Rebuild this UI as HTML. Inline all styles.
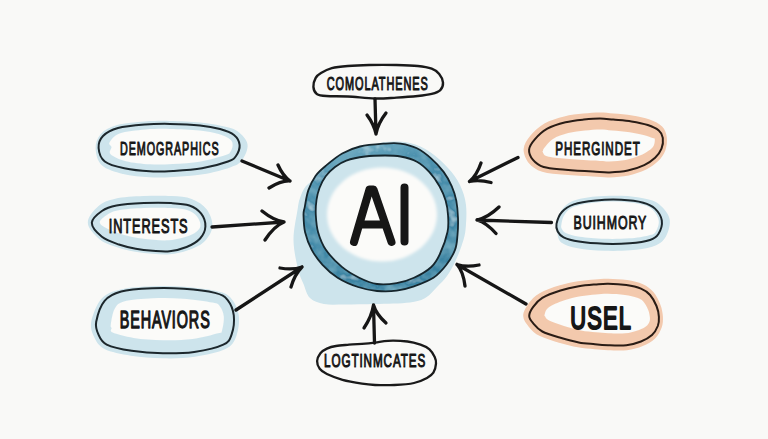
<!DOCTYPE html>
<html><head><meta charset="utf-8"><style>
html,body{margin:0;padding:0;background:#f9f9f7;}
svg{display:block;}
text{font-family:"Liberation Sans",sans-serif;font-weight:normal;fill:#161616;stroke:#161616;stroke-width:0.85px;stroke-linejoin:round;vector-effect:non-scaling-stroke;}
</style></head><body>
<svg width="768" height="439" viewBox="0 0 768 439">
<defs>
<linearGradient id="ringg" x1="0" y1="0" x2="0.3" y2="1"><stop offset="0" stop-color="#86bccf"/><stop offset="0.28" stop-color="#4c91ae"/><stop offset="1" stop-color="#3a83a2"/></linearGradient>
<filter id="soft3" x="-20%" y="-20%" width="140%" height="140%"><feGaussianBlur stdDeviation="1.6"/></filter>
<filter id="soft" x="-20%" y="-20%" width="140%" height="140%"><feGaussianBlur stdDeviation="0.6"/></filter>
<filter id="mottle" x="0" y="0" width="100%" height="100%">
<feTurbulence type="fractalNoise" baseFrequency="0.07" numOctaves="3" seed="7" result="n"/>
<feColorMatrix in="n" type="matrix" values="0 0 0 0 0.16  0 0 0 0 0.40  0 0 0 0 0.52  2.4 0 0 0 -1.0" result="dk"/>
<feColorMatrix in="n" type="matrix" values="0 0 0 0 0.52  0 0 0 0 0.74  0 0 0 0 0.82  -2.4 0 0 0 0.9" result="lt"/>
<feMerge result="mm"><feMergeNode in="SourceGraphic"/><feMergeNode in="dk"/><feMergeNode in="lt"/></feMerge>
<feComposite in="mm" in2="SourceGraphic" operator="in"/>
</filter>
</defs>
<rect width="768" height="439" fill="#f9f9f7"/>
<path d="M385.0,142.0 C392.5,141.2 402.5,141.3 410.0,143.0 C417.5,144.7 423.7,147.8 430.0,152.0 C436.3,156.2 443.0,162.5 448.0,168.0 C453.0,173.5 457.0,178.8 460.0,185.0 C463.0,191.2 465.1,197.5 466.0,205.0 C466.9,212.5 466.2,223.2 465.5,230.0 C464.8,236.8 463.2,240.7 461.5,246.0 C459.8,251.3 457.4,257.0 455.0,262.0 C452.6,267.0 450.0,271.8 447.0,276.0 C444.0,280.2 440.5,283.4 437.0,287.0 C433.5,290.6 430.5,294.9 426.0,297.5 C421.5,300.1 418.5,301.4 410.0,302.5 C401.5,303.6 385.8,303.7 375.0,304.0 C364.2,304.3 353.5,304.5 345.0,304.5 C336.5,304.5 329.8,305.1 324.0,304.0 C318.2,302.9 313.4,301.3 310.0,298.0 C306.6,294.7 305.5,288.8 303.5,284.0 C301.5,279.2 299.7,276.3 298.0,269.0 C296.3,261.7 293.6,249.8 293.5,240.0 C293.4,230.2 296.4,217.0 297.5,210.0 C298.6,203.0 298.6,202.0 300.0,198.0 C301.4,194.0 303.2,189.3 306.0,186.0 C308.8,182.7 313.3,181.2 317.0,178.0 C320.7,174.8 323.5,170.8 328.0,167.0 C332.5,163.2 337.8,158.2 344.0,155.0 C350.2,151.8 358.2,150.2 365.0,148.0 C371.8,145.8 377.5,142.8 385.0,142.0Z" fill="#cde4ec" filter="url(#soft)"/>
<path d="M385.0,143.6 C391.8,143.1 395.2,142.8 400.5,143.6 C405.8,144.4 411.8,145.8 416.9,148.3 C422.0,150.8 426.9,154.7 431.3,158.6 C435.8,162.5 440.2,167.3 443.6,171.9 C447.0,176.5 449.7,181.5 451.8,186.3 C453.9,191.1 455.3,195.3 456.3,200.6 C457.3,205.9 457.8,212.3 458.0,218.0 C458.2,223.7 458.0,229.7 457.5,235.0 C457.0,240.3 457.0,244.6 455.1,249.6 C453.2,254.6 450.0,260.1 446.4,264.8 C442.8,269.5 438.8,274.2 433.4,277.8 C428.0,281.4 420.1,284.2 414.0,286.4 C407.9,288.5 402.8,289.9 396.6,290.7 C390.4,291.5 383.4,291.6 377.0,291.0 C370.6,290.4 364.6,289.2 358.0,287.0 C351.4,284.8 343.5,281.4 337.6,277.7 C331.7,274.0 326.8,269.5 322.5,264.8 C318.2,260.1 314.5,255.0 311.6,249.6 C308.7,244.2 306.5,238.1 305.1,232.3 C303.8,226.5 303.6,219.2 303.5,215.0 C303.4,210.8 304.0,210.9 304.8,206.8 C305.6,202.7 306.5,195.5 308.3,190.4 C310.1,185.3 312.6,180.1 315.5,176.0 C318.4,171.9 321.4,169.6 325.8,165.8 C330.2,162.1 336.5,156.7 342.2,153.5 C347.9,150.3 352.9,148.2 360.0,146.5 C367.1,144.8 378.2,144.1 385.0,143.6Z" fill="url(#ringg)" filter="url(#mottle)"/>
<path d="M385.0,155.5 C390.9,155.5 395.2,155.5 400.5,156.5 C405.8,157.5 412.1,159.1 416.9,161.7 C421.7,164.3 425.4,167.8 429.2,171.9 C433.0,176.0 436.8,181.5 439.5,186.3 C442.2,191.1 444.2,195.8 445.6,200.6 C447.0,205.4 447.7,209.8 448.0,215.0 C448.3,220.2 448.9,225.5 447.5,232.0 C446.1,238.5 442.6,248.2 439.9,254.0 C437.2,259.8 435.6,263.0 431.3,267.0 C427.0,271.0 419.8,275.1 414.0,277.8 C408.2,280.5 402.8,282.2 396.6,283.2 C390.4,284.2 383.2,284.9 377.0,284.0 C370.8,283.1 365.1,280.6 359.2,277.7 C353.3,274.8 347.5,271.6 341.9,266.9 C336.3,262.2 329.7,255.4 325.7,249.6 C321.7,243.8 319.8,238.1 318.1,232.3 C316.5,226.5 316.1,220.4 315.8,215.0 C315.5,209.6 315.9,204.5 316.5,200.0 C317.1,195.5 318.0,192.0 319.5,188.0 C321.0,184.0 323.1,179.7 325.7,176.2 C328.3,172.7 331.6,169.6 335.0,167.0 C338.4,164.4 341.3,162.3 346.3,160.6 C351.3,158.8 358.6,157.3 365.0,156.5 C371.4,155.7 379.1,155.5 385.0,155.5Z" fill="#cde4ec"/>
<path d="M437.0,214.5 C437.0,220.5 435.5,226.9 432.8,232.5 C430.1,238.0 425.9,243.5 420.9,247.7 C415.9,252.0 409.5,255.6 403.0,257.9 C396.6,260.2 389.0,261.5 382.0,261.5 C375.0,261.5 367.4,260.2 361.0,257.9 C354.5,255.6 348.1,252.0 343.1,247.7 C338.1,243.5 333.9,238.0 331.2,232.5 C328.5,226.9 327.0,220.5 327.0,214.5 C327.0,208.5 328.5,202.1 331.2,196.5 C333.9,191.0 338.1,185.5 343.1,181.3 C348.1,177.0 354.5,173.4 361.0,171.1 C367.4,168.8 375.0,167.5 382.0,167.5 C389.0,167.5 396.6,168.8 403.0,171.1 C409.5,173.4 415.9,177.0 420.9,181.3 C425.9,185.5 430.1,191.0 432.8,196.5 C435.5,202.1 437.0,208.5 437.0,214.5Z" fill="#fbfbf9" filter="url(#soft3)"/>
<path d="M385.0,143.6 C391.8,143.1 395.2,142.8 400.5,143.6 C405.8,144.4 411.8,145.8 416.9,148.3 C422.0,150.8 426.9,154.7 431.3,158.6 C435.8,162.5 440.2,167.3 443.6,171.9 C447.0,176.5 449.7,181.5 451.8,186.3 C453.9,191.1 455.3,195.3 456.3,200.6 C457.3,205.9 457.8,212.3 458.0,218.0 C458.2,223.7 458.0,229.7 457.5,235.0 C457.0,240.3 457.0,244.6 455.1,249.6 C453.2,254.6 450.0,260.1 446.4,264.8 C442.8,269.5 438.8,274.2 433.4,277.8 C428.0,281.4 420.1,284.2 414.0,286.4 C407.9,288.5 402.8,289.9 396.6,290.7 C390.4,291.5 383.4,291.6 377.0,291.0 C370.6,290.4 364.6,289.2 358.0,287.0 C351.4,284.8 343.5,281.4 337.6,277.7 C331.7,274.0 326.8,269.5 322.5,264.8 C318.2,260.1 314.5,255.0 311.6,249.6 C308.7,244.2 306.5,238.1 305.1,232.3 C303.8,226.5 303.6,219.2 303.5,215.0 C303.4,210.8 304.0,210.9 304.8,206.8 C305.6,202.7 306.5,195.5 308.3,190.4 C310.1,185.3 312.6,180.1 315.5,176.0 C318.4,171.9 321.4,169.6 325.8,165.8 C330.2,162.1 336.5,156.7 342.2,153.5 C347.9,150.3 352.9,148.2 360.0,146.5 C367.1,144.8 378.2,144.1 385.0,143.6Z" fill="none" stroke="#15252c" stroke-width="1.8"/>
<path d="M385.0,155.5 C390.9,155.5 395.2,155.5 400.5,156.5 C405.8,157.5 412.1,159.1 416.9,161.7 C421.7,164.3 425.4,167.8 429.2,171.9 C433.0,176.0 436.8,181.5 439.5,186.3 C442.2,191.1 444.2,195.8 445.6,200.6 C447.0,205.4 447.7,209.8 448.0,215.0 C448.3,220.2 448.9,225.5 447.5,232.0 C446.1,238.5 442.6,248.2 439.9,254.0 C437.2,259.8 435.6,263.0 431.3,267.0 C427.0,271.0 419.8,275.1 414.0,277.8 C408.2,280.5 402.8,282.2 396.6,283.2 C390.4,284.2 383.2,284.9 377.0,284.0 C370.8,283.1 365.1,280.6 359.2,277.7 C353.3,274.8 347.5,271.6 341.9,266.9 C336.3,262.2 329.7,255.4 325.7,249.6 C321.7,243.8 319.8,238.1 318.1,232.3 C316.5,226.5 316.1,220.4 315.8,215.0 C315.5,209.6 315.9,204.5 316.5,200.0 C317.1,195.5 318.0,192.0 319.5,188.0 C321.0,184.0 323.1,179.7 325.7,176.2 C328.3,172.7 331.6,169.6 335.0,167.0 C338.4,164.4 341.3,162.3 346.3,160.6 C351.3,158.8 358.6,157.3 365.0,156.5 C371.4,155.7 379.1,155.5 385.0,155.5Z" fill="none" stroke="#15252c" stroke-width="1.8"/>
<path d="M354,242 L369.5,189.5 L373.5,189.5 L391.5,242 M361,224.5 L385,224.5 M404.5,187.5 L404.5,241.5" fill="none" stroke="#161616" stroke-width="8" stroke-linecap="round" stroke-linejoin="round"/>
<path d="M313.4,86.9 C313.2,84.2 314.4,80.1 315.7,77.8 C317.0,75.5 318.3,74.6 321.0,73.0 C323.7,71.4 327.3,69.4 331.8,68.2 C336.3,67.0 341.6,66.5 347.8,66.0 C354.0,65.5 361.1,65.2 369.2,65.0 C377.3,64.8 388.3,64.8 396.4,65.0 C404.5,65.2 411.9,65.4 417.8,66.0 C423.7,66.6 428.1,67.4 431.7,68.7 C435.3,70.0 437.3,71.7 439.2,74.0 C441.1,76.3 442.8,79.9 443.0,82.6 C443.2,85.3 442.2,88.2 440.3,90.1 C438.4,92.0 435.4,92.9 431.7,93.9 C427.9,94.9 423.7,95.4 417.8,96.0 C411.9,96.6 403.5,97.2 396.4,97.6 C389.3,98.0 383.1,98.7 375.0,98.5 C366.9,98.3 355.9,96.9 347.8,96.5 C339.7,96.1 331.6,96.4 326.4,96.0 C321.2,95.6 319.0,95.4 316.8,93.9 C314.6,92.4 313.6,89.6 313.4,86.9Z" fill="none" stroke="#1a1a1a" stroke-width="2.4"/>
<text transform="translate(326.7,89.7) scale(0.610,1)" font-size="17.97" textLength="165.7" lengthAdjust="spacing">COMOLATHENES</text>
<path d="M95.6,148.2 C95.4,143.0 97.2,137.8 100.8,133.9 C104.4,130.1 109.9,127.2 117.2,125.1 C124.5,123.0 136.0,122.2 144.8,121.5 C153.6,120.8 160.8,120.8 170.0,120.9 C179.3,121.0 191.8,121.6 200.3,122.4 C208.8,123.2 214.8,124.3 220.9,125.8 C227.1,127.2 232.7,128.0 237.2,131.1 C241.6,134.2 246.7,139.4 247.5,144.2 C248.3,149.1 244.9,156.4 242.0,160.2 C239.1,164.1 236.6,165.0 230.1,167.4 C223.6,169.7 212.5,172.7 203.0,174.3 C193.6,175.9 182.3,176.5 173.3,177.0 C164.4,177.5 157.8,177.8 149.4,177.3 C141.0,176.8 131.0,176.0 123.0,174.0 C115.1,172.0 106.4,169.6 101.8,165.3 C97.2,161.0 95.8,153.4 95.6,148.2Z" fill="#cde4ec" filter="url(#soft)"/>
<path d="M111.5,147.1 C111.4,145.1 108.2,144.6 109.5,142.4 C110.9,140.1 113.5,135.5 119.5,133.4 C125.4,131.2 137.0,130.3 145.4,129.5 C153.8,128.8 160.9,128.8 169.9,128.9 C178.9,129.0 191.4,129.6 199.5,130.4 C207.6,131.2 213.5,132.4 218.6,134.0 C223.7,135.5 228.0,137.5 230.3,139.5 C232.7,141.4 232.7,143.6 232.6,145.7 C232.6,147.7 231.4,150.4 230.3,152.0 C229.1,153.5 230.5,153.3 225.6,154.9 C220.7,156.5 209.6,159.9 200.8,161.4 C192.0,162.9 181.1,163.5 172.6,164.0 C164.1,164.5 157.9,164.8 150.1,164.3 C142.3,163.8 132.4,162.9 125.9,161.2 C119.3,159.5 113.0,156.5 110.6,154.2 C108.2,151.8 111.7,149.1 111.5,147.1Z" fill="#fbfbf9" filter="url(#soft)"/>
<path d="M98.6,148.0 C98.3,143.8 99.8,139.3 103.0,136.0 C106.2,132.7 111.0,129.9 118.0,128.0 C125.0,126.1 136.3,125.2 145.0,124.5 C153.7,123.8 160.8,123.8 170.0,123.9 C179.2,124.1 191.7,124.6 200.0,125.4 C208.3,126.2 214.3,127.4 220.0,129.0 C225.7,130.6 230.7,132.3 234.0,135.0 C237.3,137.7 239.3,141.5 239.6,145.0 C239.9,148.5 237.9,153.2 236.0,156.0 C234.1,158.8 233.7,159.4 228.0,161.5 C222.3,163.6 211.2,166.7 202.0,168.3 C192.8,169.9 181.7,170.5 173.0,171.0 C164.3,171.5 157.8,171.8 149.7,171.3 C141.6,170.9 131.8,169.9 124.3,168.3 C116.8,166.7 109.1,164.9 104.8,161.5 C100.5,158.1 98.9,152.2 98.6,148.0Z" fill="none" stroke="#1c272c" stroke-width="2.0"/>
<text transform="translate(120.1,154.7) scale(0.569,1)" font-size="18.93" textLength="173.1" lengthAdjust="spacing">DEMOGRAPHICS</text>
<path d="M87.8,222.8 C87.6,217.2 93.9,210.1 98.5,206.1 C103.0,202.1 107.7,200.4 115.2,198.7 C122.7,197.1 134.1,196.5 143.5,196.1 C152.9,195.7 163.4,195.6 171.5,196.1 C179.5,196.6 185.8,196.7 191.7,198.9 C197.6,201.1 203.3,204.8 206.8,209.5 C210.2,214.1 212.9,221.4 212.4,226.8 C211.9,232.2 208.0,238.1 203.9,242.0 C199.8,245.9 193.6,248.3 188.0,250.3 C182.3,252.4 175.8,253.7 169.9,254.2 C164.0,254.8 158.3,254.1 152.5,253.7 C146.7,253.3 141.0,252.7 135.3,251.7 C129.5,250.6 123.8,249.5 117.9,247.4 C112.0,245.4 104.8,243.6 99.8,239.4 C94.8,235.3 88.0,228.4 87.8,222.8Z" fill="#cde4ec" filter="url(#soft)"/>
<path d="M99.8,222.8 C99.3,220.6 102.4,218.0 105.3,215.9 C108.3,213.9 111.0,211.8 117.4,210.5 C123.9,209.2 135.1,208.5 144.0,208.1 C152.9,207.7 163.6,207.7 170.8,208.1 C178.1,208.4 183.3,208.8 187.7,210.2 C192.1,211.7 195.1,214.1 197.2,216.7 C199.3,219.4 200.9,223.5 200.4,226.3 C199.9,229.0 197.3,231.4 194.4,233.3 C191.4,235.2 187.0,236.5 182.7,237.7 C178.4,238.8 173.3,240.0 168.4,240.3 C163.5,240.7 158.6,240.1 153.5,239.7 C148.4,239.4 142.9,238.9 137.8,238.0 C132.6,237.1 127.4,235.9 122.4,234.4 C117.5,233.0 111.8,231.1 108.0,229.1 C104.3,227.2 100.3,225.0 99.8,222.8Z" fill="#fbfbf9" filter="url(#soft)"/>
<path d="M91.8,222.8 C91.8,218.5 97.8,213.9 101.9,211.0 C106.0,208.1 109.5,206.8 116.5,205.5 C123.5,204.2 134.7,203.5 143.8,203.1 C152.9,202.7 163.5,202.7 171.1,203.1 C178.7,203.5 184.4,203.7 189.4,205.5 C194.4,207.3 198.5,210.2 201.2,213.7 C203.9,217.2 205.6,222.4 205.4,226.5 C205.2,230.6 203.2,235.1 200.1,238.5 C197.0,241.9 191.7,244.9 186.6,247.0 C181.5,249.1 175.2,250.6 169.6,251.2 C163.9,251.8 158.3,251.1 152.7,250.7 C147.1,250.3 141.4,249.7 135.8,248.7 C130.2,247.7 124.6,246.5 118.9,244.5 C113.2,242.5 106.4,240.4 101.9,236.8 C97.4,233.2 91.8,227.1 91.8,222.8Z" fill="none" stroke="#1c272c" stroke-width="2.0"/>
<text transform="translate(108.7,233.0) scale(0.661,1)" font-size="19.34" textLength="119.4" lengthAdjust="spacing">INTERESTS</text>
<path d="M91.4,320.8 C92.8,314.5 96.8,303.6 101.7,298.4 C106.6,293.2 112.2,291.4 120.7,289.4 C129.2,287.4 141.9,286.7 152.4,286.3 C162.9,285.9 173.4,286.0 183.9,286.7 C194.4,287.5 207.8,289.0 215.5,290.8 C223.3,292.6 226.5,293.4 230.4,297.4 C234.3,301.4 237.7,308.4 238.7,314.8 C239.7,321.2 238.6,330.2 236.4,335.9 C234.2,341.6 232.4,345.6 225.4,349.1 C218.5,352.6 205.3,355.3 194.9,356.8 C184.5,358.4 173.5,358.5 162.8,358.3 C152.1,358.1 140.7,357.3 130.9,355.7 C121.2,354.2 110.7,352.3 104.5,349.1 C98.3,345.8 95.9,341.0 93.8,336.3 C91.6,331.6 90.1,327.1 91.4,320.8Z" fill="#cde4ec" filter="url(#soft)"/>
<path d="M110.8,324.4 C111.3,321.3 112.4,312.9 114.6,309.1 C116.8,305.2 117.5,303.3 123.9,301.5 C130.2,299.7 143.1,298.8 152.9,298.3 C162.8,297.8 173.1,298.0 183.0,298.7 C193.0,299.4 206.4,301.3 212.6,302.6 C218.7,303.8 217.9,303.9 219.8,306.2 C221.7,308.5 223.5,312.5 223.8,316.6 C224.2,320.7 222.9,327.9 222.0,330.7 C221.0,333.5 222.9,331.9 218.0,333.3 C213.0,334.7 201.5,337.9 192.4,339.1 C183.2,340.3 172.9,340.5 163.1,340.3 C153.4,340.1 142.1,339.2 133.7,337.9 C125.3,336.6 116.3,334.2 112.7,332.6 C109.0,331.0 111.9,329.5 111.6,328.1 C111.3,326.8 110.3,327.6 110.8,324.4Z" fill="#fbfbf9" filter="url(#soft)"/>
<path d="M96.2,321.7 C97.3,316.1 100.4,305.8 104.6,300.8 C108.8,295.8 113.3,293.6 121.2,291.5 C129.2,289.4 142.1,288.8 152.5,288.3 C162.9,287.8 173.3,288.0 183.8,288.8 C194.2,289.5 207.7,291.1 215.0,292.9 C222.3,294.7 224.4,296.1 227.5,299.8 C230.6,303.6 233.1,309.7 233.8,315.4 C234.4,321.1 233.4,329.3 231.7,334.2 C230.0,339.1 229.6,341.7 223.3,344.6 C217.1,347.6 204.3,350.4 194.2,351.9 C184.1,353.3 173.3,353.5 162.9,353.3 C152.5,353.1 141.1,352.2 131.7,350.8 C122.3,349.4 112.3,347.4 106.7,344.6 C101.1,341.8 100.0,338.0 98.3,334.2 C96.6,330.4 95.2,327.3 96.2,321.7Z" fill="none" stroke="#1c272c" stroke-width="2.0"/>
<text style="stroke-width:1.1px" transform="translate(119.7,327.7) scale(0.624,1)" font-size="23.05" textLength="144.3" lengthAdjust="spacing">BEHAVIORS</text>
<path d="M523.6,149.1 C523.9,144.6 526.8,140.1 530.3,135.8 C533.8,131.6 538.8,126.8 544.4,123.6 C550.1,120.3 557.6,118.2 564.1,116.5 C570.5,114.9 577.2,114.3 583.1,113.6 C589.1,113.0 594.9,112.5 600.0,112.5 C605.1,112.5 608.4,113.1 613.8,113.6 C619.1,114.1 626.3,114.5 632.3,115.5 C638.3,116.5 644.7,117.7 649.6,119.5 C654.6,121.3 659.3,123.6 662.1,126.6 C665.0,129.5 666.3,133.3 666.8,137.2 C667.3,141.1 666.8,146.2 665.4,150.2 C663.9,154.2 661.4,157.9 658.2,161.1 C655.0,164.3 651.1,167.1 646.2,169.5 C641.3,171.9 634.9,174.1 628.8,175.5 C622.7,176.8 615.8,177.2 609.7,177.4 C603.7,177.6 600.0,176.9 592.6,176.5 C585.1,176.0 573.4,175.5 565.0,174.7 C556.6,173.9 548.3,173.8 542.2,171.8 C536.2,169.9 531.8,166.8 528.7,163.0 C525.6,159.2 523.4,153.6 523.6,149.1Z" fill="#f3c9ad" filter="url(#soft)"/>
<path d="M543.0,150.9 C543.3,150.3 542.5,149.9 544.2,147.9 C545.8,146.0 549.0,141.4 553.0,138.9 C557.0,136.5 562.9,134.5 568.2,133.1 C573.5,131.8 579.7,131.2 585.0,130.6 C590.3,130.0 595.5,129.5 600.0,129.5 C604.5,129.5 607.2,130.1 612.2,130.5 C617.1,131.0 624.3,131.4 629.7,132.2 C635.1,133.0 640.6,134.2 644.4,135.2 C648.2,136.1 650.7,137.3 652.5,137.9 C654.2,138.5 654.6,137.7 654.8,139.0 C655.0,140.3 654.7,143.7 653.7,145.7 C652.6,147.7 650.8,149.2 648.5,150.8 C646.2,152.5 643.6,154.1 639.8,155.6 C635.9,157.1 630.6,159.0 625.6,160.0 C620.5,160.9 614.6,161.3 609.3,161.4 C604.0,161.5 600.7,161.0 593.6,160.5 C586.4,160.1 574.3,159.4 566.5,158.7 C558.7,158.0 551.0,157.5 547.0,156.2 C543.0,155.0 543.2,152.3 542.6,151.4 C541.9,150.5 542.8,151.4 543.0,150.9Z" fill="#fbfbf9" filter="url(#soft)"/>
<path d="M529.1,149.6 C529.4,146.3 531.6,143.1 534.6,139.6 C537.6,136.1 542.1,131.6 547.3,128.7 C552.4,125.8 559.4,123.8 565.5,122.3 C571.6,120.8 578.0,120.2 583.8,119.6 C589.5,119.0 595.1,118.5 600.0,118.5 C604.9,118.5 608.0,119.1 613.2,119.6 C618.4,120.1 625.6,120.5 631.4,121.4 C637.2,122.3 643.2,123.5 647.8,125.0 C652.4,126.5 656.3,128.4 658.8,130.5 C661.3,132.6 662.3,134.8 662.8,137.8 C663.2,140.8 662.8,145.4 661.5,148.7 C660.2,152.0 658.0,155.1 655.1,157.8 C652.2,160.5 648.8,163.0 644.2,165.1 C639.7,167.2 633.6,169.4 627.8,170.6 C622.0,171.8 615.4,172.2 609.6,172.4 C603.8,172.6 600.2,171.9 592.9,171.5 C585.5,171.1 573.7,170.4 565.5,169.7 C557.3,168.9 549.2,168.7 543.7,167.0 C538.2,165.3 535.2,162.5 532.8,159.6 C530.4,156.7 528.8,152.9 529.1,149.6Z" fill="none" stroke="#2a1c15" stroke-width="2.0"/>
<text transform="translate(555.3,155.3) scale(0.615,1)" font-size="18.93" textLength="137.3" lengthAdjust="spacing">PHERGINDET</text>
<path d="M557.3,224.1 C557.9,220.6 558.4,215.0 561.0,211.2 C563.6,207.4 566.9,203.5 572.7,201.1 C578.4,198.7 587.3,197.4 595.4,196.6 C603.5,195.7 613.2,195.5 621.4,195.8 C629.5,196.1 638.0,197.2 644.3,198.6 C650.6,200.0 654.9,200.9 659.1,204.3 C663.3,207.8 668.7,213.8 669.7,219.4 C670.6,225.1 667.9,233.5 665.0,238.0 C662.1,242.6 658.0,244.7 652.2,246.8 C646.4,248.8 638.2,249.6 630.2,250.3 C622.1,251.0 612.7,251.1 604.0,250.8 C595.2,250.5 585.0,249.7 577.8,248.3 C570.7,246.9 564.7,245.1 561.2,242.4 C557.8,239.6 557.7,234.9 557.1,231.8 C556.4,228.8 556.6,227.5 557.3,224.1Z" fill="#cde4ec" filter="url(#soft)"/>
<path d="M561.3,224.9 C561.7,222.5 562.4,217.5 564.7,214.4 C566.9,211.4 569.3,208.6 574.5,206.6 C579.8,204.6 588.2,203.3 596.0,202.5 C603.8,201.7 613.3,201.4 621.1,201.8 C628.9,202.2 637.3,203.3 642.7,204.7 C648.0,206.1 650.6,207.7 653.3,210.4 C656.0,213.1 658.5,217.3 658.8,220.9 C659.2,224.5 657.1,229.7 655.4,232.2 C653.7,234.6 652.9,234.4 648.5,235.4 C644.2,236.4 636.5,237.8 629.2,238.3 C621.8,238.9 612.6,239.1 604.4,238.8 C596.1,238.5 586.1,237.6 579.7,236.7 C573.2,235.7 568.7,234.1 565.8,232.9 C562.8,231.6 562.9,230.5 562.1,229.2 C561.4,227.8 560.8,227.4 561.3,224.9Z" fill="#fbfbf9" filter="url(#soft)"/>
<path d="M556.5,223.9 C557.2,220.7 559.0,215.2 561.9,212.0 C564.8,208.8 568.1,206.3 573.8,204.4 C579.4,202.5 587.9,201.3 595.8,200.5 C603.7,199.7 613.3,199.4 621.2,199.8 C629.1,200.2 637.6,201.2 643.2,202.7 C648.8,204.2 651.9,205.6 655.0,208.6 C658.1,211.6 661.2,216.3 661.8,220.5 C662.4,224.7 660.4,230.8 658.4,234.0 C656.4,237.2 654.8,238.4 650.0,240.0 C645.2,241.6 637.2,242.7 629.6,243.3 C622.0,243.9 612.7,244.1 604.2,243.8 C595.8,243.5 585.7,242.7 578.9,241.6 C572.1,240.5 567.1,239.1 563.6,237.4 C560.1,235.7 558.9,233.8 557.7,231.5 C556.5,229.2 555.8,227.2 556.5,223.9Z" fill="none" stroke="#1c272c" stroke-width="2.0"/>
<text transform="translate(573.5,229.0) scale(0.654,1)" font-size="18.93" textLength="111.3" lengthAdjust="spacing">BUIHMORY</text>
<path d="M523.2,316.0 C523.1,312.1 525.9,307.4 528.6,303.6 C531.3,299.8 534.5,296.3 539.6,293.3 C544.6,290.3 552.6,287.6 559.0,285.6 C565.4,283.7 572.0,282.4 577.9,281.3 C583.9,280.3 589.5,280.0 594.6,279.5 C599.6,279.1 602.8,278.6 608.3,278.7 C613.7,278.8 621.4,279.2 627.2,280.1 C632.9,281.0 638.5,282.2 642.9,284.2 C647.3,286.2 650.5,288.7 653.4,292.0 C656.3,295.4 658.8,300.4 660.3,304.5 C661.9,308.6 662.7,312.8 662.9,316.6 C663.1,320.5 663.0,323.8 661.7,327.5 C660.4,331.1 658.2,335.3 655.1,338.4 C651.9,341.5 647.5,344.1 642.8,346.0 C638.1,348.0 632.7,349.5 627.0,350.2 C621.2,350.9 613.4,350.4 608.0,350.2 C602.6,350.0 599.6,349.7 594.5,349.2 C589.5,348.7 583.8,348.4 577.9,347.3 C572.0,346.3 565.4,344.5 559.0,342.7 C552.7,340.8 544.9,338.7 539.9,336.1 C534.8,333.5 531.7,330.3 528.9,326.9 C526.2,323.6 523.3,319.9 523.2,316.0Z" fill="#f3c9ad" filter="url(#soft)"/>
<path d="M545.2,316.0 C545.3,316.2 544.0,316.4 544.5,315.1 C545.0,313.7 545.1,310.2 548.3,307.7 C551.5,305.3 558.3,302.5 563.7,300.6 C569.0,298.7 575.2,297.3 580.5,296.3 C585.9,295.3 591.3,294.9 595.9,294.5 C600.5,294.1 603.2,293.6 608.0,293.7 C612.9,293.8 620.0,294.2 624.9,294.9 C629.8,295.5 634.1,296.7 637.2,297.8 C640.2,298.8 641.3,299.4 643.1,301.3 C644.9,303.2 646.9,306.7 648.0,309.4 C649.2,312.1 649.7,315.3 649.9,317.5 C650.1,319.7 649.9,321.0 649.0,322.7 C648.2,324.3 646.8,326.0 644.8,327.3 C642.8,328.6 640.0,329.7 636.7,330.7 C633.5,331.7 629.8,332.9 625.1,333.3 C620.4,333.7 613.4,333.4 608.6,333.2 C603.8,333.0 600.7,332.7 596.1,332.2 C591.5,331.8 586.4,331.5 581.0,330.5 C575.7,329.4 569.5,327.7 564.0,326.0 C558.6,324.3 551.7,322.1 548.3,320.1 C545.0,318.1 544.7,314.7 544.1,314.0 C543.6,313.4 545.1,315.8 545.2,316.0Z" fill="#fbfbf9" filter="url(#soft)"/>
<path d="M529.2,316.0 C529.2,313.3 531.0,309.9 533.2,306.9 C535.4,303.9 537.8,300.5 542.3,297.8 C546.8,295.1 554.4,292.4 560.5,290.5 C566.6,288.6 573.0,287.3 578.8,286.3 C584.5,285.3 590.1,284.9 595.0,284.5 C599.9,284.1 603.0,283.6 608.2,283.7 C613.4,283.8 620.9,284.2 626.4,285.0 C631.9,285.8 637.0,287.0 641.0,288.7 C645.0,290.4 647.5,292.1 650.1,295.0 C652.7,297.9 655.0,302.4 656.5,306.0 C658.0,309.6 658.7,313.6 658.9,316.9 C659.1,320.2 658.9,323.0 657.8,326.0 C656.6,329.0 654.8,332.5 652.0,335.1 C649.2,337.7 645.3,339.8 641.0,341.5 C636.7,343.2 631.9,344.6 626.4,345.2 C620.9,345.8 613.4,345.4 608.2,345.2 C603.0,345.0 599.9,344.7 595.0,344.2 C590.1,343.7 584.5,343.5 578.8,342.4 C573.0,341.3 566.6,339.6 560.5,337.8 C554.4,336.0 546.8,333.9 542.3,331.5 C537.8,329.1 535.4,325.9 533.2,323.3 C531.0,320.7 529.2,318.7 529.2,316.0Z" fill="none" stroke="#2a1c15" stroke-width="2.0"/>
<text style="stroke-width:1.9px" transform="translate(570.3,328.7) scale(0.683,1)" font-size="31.96" textLength="88.8" lengthAdjust="spacing">USEL</text>
<path d="M317.1,361.0 C317.2,358.4 318.8,355.3 320.4,353.2 C322.0,351.1 324.3,349.8 326.9,348.6 C329.5,347.4 332.3,346.6 336.0,346.0 C339.7,345.4 344.7,345.1 349.0,344.7 C353.3,344.3 357.7,344.1 362.0,343.8 C366.3,343.5 370.7,343.1 375.0,342.6 C379.3,342.1 382.6,341.0 388.0,340.8 C393.4,340.6 402.1,340.9 407.5,341.5 C412.9,342.1 416.8,343.4 420.5,344.7 C424.2,346.0 427.1,347.2 429.5,349.3 C431.9,351.4 433.6,354.7 434.7,357.1 C435.8,359.5 436.2,361.0 436.0,363.6 C435.8,366.2 434.9,370.3 433.4,372.7 C431.9,375.1 430.2,376.2 427.0,377.9 C423.8,379.6 419.4,381.8 414.0,383.0 C408.6,384.2 401.0,384.7 394.5,385.0 C388.0,385.3 380.4,385.2 375.0,385.0 C369.6,384.8 367.4,384.6 362.0,383.7 C356.6,382.8 348.4,381.4 342.5,379.8 C336.6,378.2 330.7,375.8 326.9,374.0 C323.1,372.2 321.3,371.0 319.7,368.8 C318.1,366.6 317.0,363.6 317.1,361.0Z" fill="none" stroke="#1a1a1a" stroke-width="2.3"/>
<text transform="translate(324.0,367.2) scale(0.666,1)" font-size="17.56" textLength="152.1" lengthAdjust="spacing">LOGTINMCATES</text>
<path d="M375,99 L376,134 M367,115 Q374.0,124.4 376,134 M386,113 Q377.8,123.6 376,134" fill="none" stroke="#161616" stroke-width="3.3" stroke-linecap="round" stroke-linejoin="round"/>
<path d="M242,161 L290,181 M278,165 Q282.8,175.8 290,181 M269,188 Q281.2,180.5 290,181" fill="none" stroke="#161616" stroke-width="3.3" stroke-linecap="round" stroke-linejoin="round"/>
<path d="M212,227 L284,222 M262,211 Q273.3,220.2 284,222 M265,240 Q274.2,226.0 284,222" fill="none" stroke="#161616" stroke-width="3.3" stroke-linecap="round" stroke-linejoin="round"/>
<path d="M236,310 L302,267 M280,268 Q292.8,270.3 302,267 M291,287 Q294.7,274.3 302,267" fill="none" stroke="#161616" stroke-width="3.3" stroke-linecap="round" stroke-linejoin="round"/>
<path d="M518,157.5 L469.5,181.5 M481,163 Q476.8,175.3 469.5,181.5 M491,182.5 Q478.9,179.2 469.5,181.5" fill="none" stroke="#161616" stroke-width="3.3" stroke-linecap="round" stroke-linejoin="round"/>
<path d="M551.5,222.5 L477,220 M499,207 Q487.9,217.6 477,220 M496,233.5 Q486.6,222.9 477,220" fill="none" stroke="#161616" stroke-width="3.3" stroke-linecap="round" stroke-linejoin="round"/>
<path d="M526,304 L457,264.5 M479,265 Q466.4,267.5 457,264.5 M465,286 Q463.2,271.4 457,264.5" fill="none" stroke="#161616" stroke-width="3.3" stroke-linecap="round" stroke-linejoin="round"/>
<path d="M374.5,343 L373.5,305 M364,328 Q371.8,316.4 373.5,305 M386,323 Q376.1,314.1 373.5,305" fill="none" stroke="#161616" stroke-width="3.3" stroke-linecap="round" stroke-linejoin="round"/>
</svg>
</body></html>
